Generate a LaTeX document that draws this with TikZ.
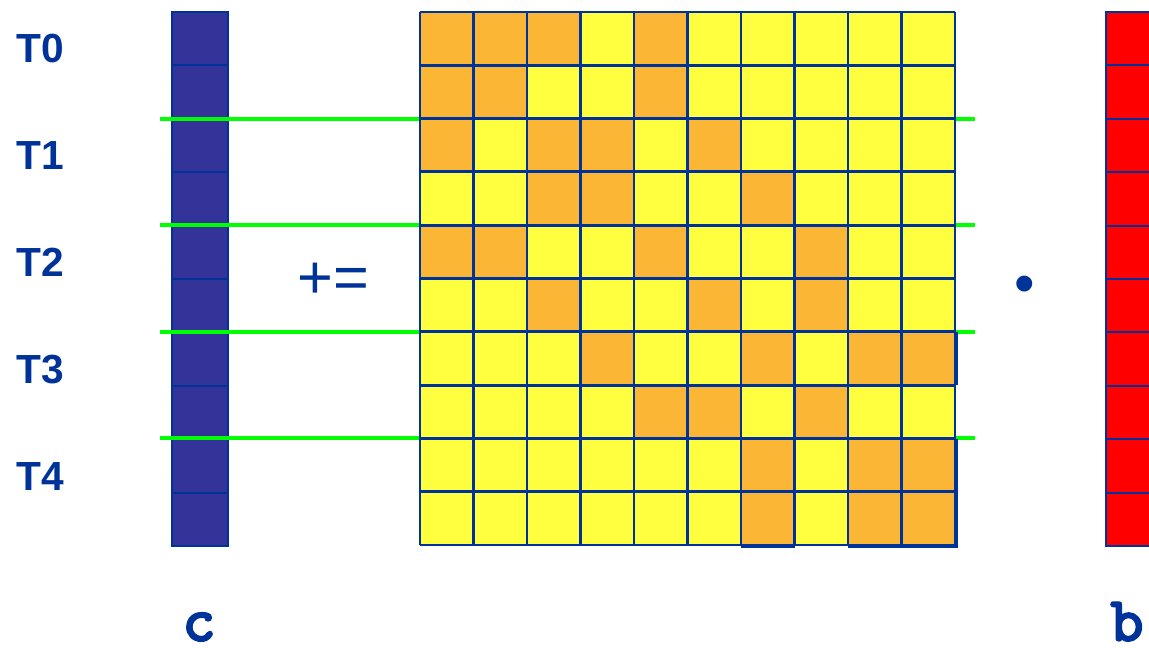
\documentclass[tikz,border=0pt]{standalone}
\usepackage{fontspec}
\setmainfont{Liberation Sans}
\newfontfamily\monofam{lmmonolt10-bold.otf}[FakeBold=2]
\definecolor{dblue}{RGB}{0,51,153}
\definecolor{vblue}{RGB}{51,51,153}
\definecolor{cyel}{RGB}{255,255,64}
\definecolor{corg}{RGB}{250,182,52}
\definecolor{lgreen}{RGB}{0,255,0}
\definecolor{vred}{RGB}{255,0,0}
\tikzset{
  gridline/.style={draw=dblue, line width=2.2pt},
  thinline/.style={draw=dblue, line width=1.5pt},
  tlabel/.style={text=dblue, font=\bfseries\fontsize{30.5}{32}\selectfont, anchor=west, inner sep=0pt},
  vlabel/.style={text=dblue, font=\monofam\fontsize{48}{52}\selectfont, inner sep=0pt, anchor=base},
  sepline/.style={draw=lgreen, line width=3pt},
}
\begin{document}
\begin{tikzpicture}[x=0.75pt,y=-0.75pt]
\useasboundingbox (0,0) rectangle (1149,648);
\clip (0,0) rectangle (1149,648);
% vector c
\fill[vblue] (172,12) rectangle (228,546);
\foreach \i in {1,...,9}
  \draw[thinline] (172,{12+53.4*\i}) -- (228,{12+53.4*\i});
\draw[gridline] (172,12) rectangle (228,546);
% green separators
\foreach \i in {1,...,4}
  \draw[sepline] (160,{12+106.6*\i}) -- (975,{12+106.6*\i});
% matrix
\fill[cyel] (420,12) rectangle (955,545);
\foreach \r/\cols in {0/{0,1,2,4},1/{0,1,4},2/{0,2,3,5},3/{2,3,6},4/{0,1,4,7},5/{2,5,7},6/{3,6,8,9},7/{4,5,7},8/{6,8,9},9/{6,8,9}}
  \foreach \c in \cols
    \fill[corg] ({420+53.5*\c},{12+53.3*\r}) rectangle ({420+53.5*(\c+1)},{12+53.3*(\r+1)});
\foreach \i in {0,...,10} {
  \draw[gridline] ({420+53.5*\i},12) -- ({420+53.5*\i},545);
  \draw[gridline] (420,{12+53.3*\i}) -- (955,{12+53.3*\i});
}
% thicker edges around some orange cells
\draw[draw=dblue, line width=2.2pt] (741,546.5) -- (795,546.5);
\draw[draw=dblue, line width=2.2pt] (848,546.5) -- (957,546.5) -- (957,439);
\draw[draw=dblue, line width=2.2pt] (957,332) -- (957,385);
% vector b
\fill[vred] (1106,12) rectangle (1170,546);
\foreach \i in {1,...,9}
  \draw[thinline] (1106,{12+53.4*\i}) -- (1170,{12+53.4*\i});
\draw[gridline] (1170,12) -- (1106,12) -- (1106,546) -- (1170,546);
% labels
\foreach \i in {0,...,4}
  \node[tlabel] (T\i) at (16,{49+106.9*\i}) {T\i};
\node[text=dblue, font=\fontsize{46}{50}\selectfont, inner sep=0pt] (pluseq) at (333,281) {+=};
\node[text=dblue, font=\fontsize{44}{48}\selectfont, inner sep=0pt] (dot) at (1025,290) {•};
\node[vlabel] (c) at (199,641) {c};
\node[vlabel] (b) at (1127,641) {b};
\end{tikzpicture}
\end{document}
